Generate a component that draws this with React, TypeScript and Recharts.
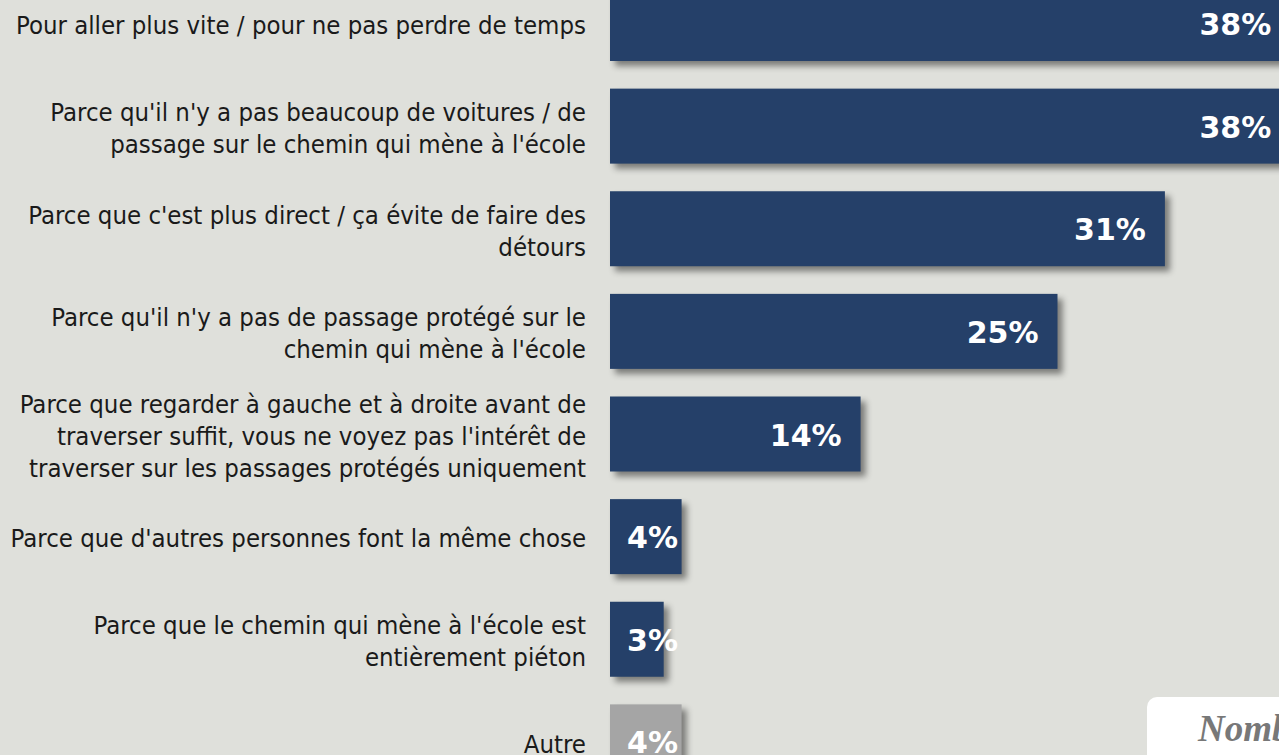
import { BarChart, Bar, XAxis, YAxis, Cell, LabelList } from "recharts";

const reasons = [
  "Pour aller plus vite / pour ne pas perdre de temps",
  "Parce qu'il n'y a pas beaucoup de voitures / de\npassage sur le chemin qui mène à l'école",
  "Parce que c'est plus direct / ça évite de faire des\ndétours",
  "Parce qu'il n'y a pas de passage protégé sur le\nchemin qui mène à l'école",
  "Parce que regarder à gauche et à droite avant de\ntraverser suffit, vous ne voyez pas l'intérêt de\ntraverser sur les passages protégés uniquement",
  "Parce que d'autres personnes font la même chose",
  "Parce que le chemin qui mène à l'école est\nentièrement piéton",
  "Autre",
];
const shares = [38, 38, 31, 25, 14, 4, 3, 4];

const BAR_COLOR = "#254069";
const OTHER_COLOR = "#a5a5a5";

const data = reasons.map((reason, i) => ({ reason, share: shares[i] }));

function ReasonTick({ y, payload }: any) {
  const lines = String(payload.value).split("\n");
  const start = y - ((lines.length - 1) * 32) / 2;
  return (
    <text
      x={586}
      textAnchor="end"
      fill="#1a1a1a"
      fontSize={25.5}
      fontFamily="'DejaVu Sans Condensed', 'DejaVu Sans', sans-serif"
    >
      {lines.map((line, i) => (
        <tspan key={i} x={586} y={start + i * 32 + 2} dominantBaseline="central">
          {line}
        </tspan>
      ))}
    </text>
  );
}

function ShareLabel({ x, y, width, height, value }: any) {
  const small = width < 100;
  return (
    <text
      x={small ? x + 17 : x + width - 19}
      y={y + height / 2 + 1}
      textAnchor={small ? "start" : "end"}
      dominantBaseline="central"
      fill="#ffffff"
      fontSize={30}
      fontWeight="bold"
      fontFamily="'DejaVu Sans', sans-serif"
    >
      {value}%
    </text>
  );
}

function ShadowBar({ x, y, width, height, fill }: any) {
  return (
    <rect
      x={x}
      y={y}
      width={width}
      height={height}
      fill={fill}
      style={{ filter: "drop-shadow(5px 5px 3px rgba(0,0,0,0.45))" }}
    />
  );
}

export default function App() {
  return (
    <div
      style={{
        position: "absolute",
        left: 0,
        top: 0,
        width: 1279,
        height: 755,
        overflow: "hidden",
        background: "#dfe0db",
      }}
    >
      <div style={{ position: "absolute", left: 0, top: -28 }}>
        <BarChart
          width={1326}
          height={821}
          data={data}
          layout="vertical"
          margin={{ top: 0, right: 0, bottom: 0, left: 0 }}
        >
          <XAxis type="number" domain={[0, 40]} hide />
          <YAxis
            type="category"
            dataKey="reason"
            width={610}
            axisLine={false}
            tickLine={false}
            tick={<ReasonTick />}
            interval={0}
          />
          <Bar dataKey="share" barSize={75} shape={<ShadowBar />} isAnimationActive={false}>
            {data.map((d, i) => (
              <Cell key={i} fill={d.reason === "Autre" ? OTHER_COLOR : BAR_COLOR} />
            ))}
            <LabelList dataKey="share" content={<ShareLabel />} />
          </Bar>
        </BarChart>
      </div>
      <div
        style={{
          position: "absolute",
          left: 1147,
          top: 697,
          width: 220,
          height: 90,
          background: "#ffffff",
          borderRadius: 10,
          boxSizing: "border-box",
          padding: "10px 0 0 51px",
          color: "#787878",
          fontFamily: "'Liberation Serif', serif",
          fontStyle: "italic",
          fontWeight: "bold",
          fontSize: 37,
          whiteSpace: "nowrap",
        }}
      >
        Nombre
      </div>
    </div>
  );
}
